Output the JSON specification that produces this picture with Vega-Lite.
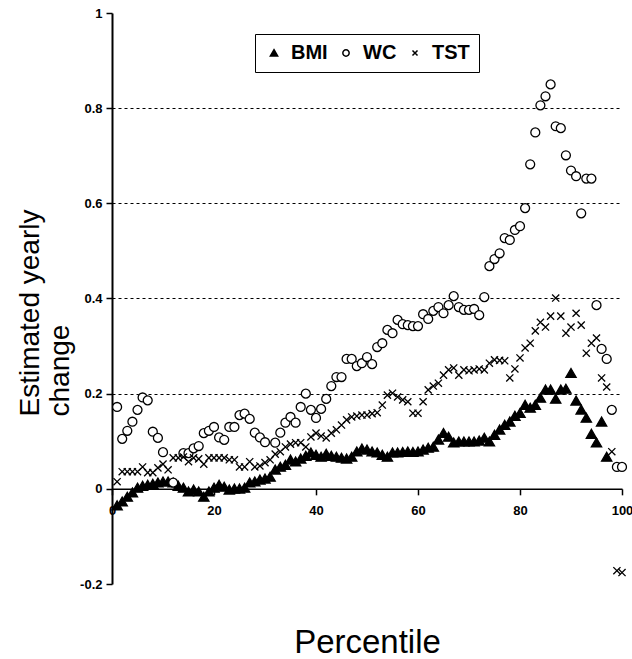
{
 "$schema": "https://vega.github.io/schema/vega-lite/v6.json",
 "width": 510, "height": 571,
 "autosize": {"type": "none"},
 "padding": {"left": 112, "top": 13, "right": 10, "bottom": 75},
 "background": "white",
 "config": {"view": {"stroke": null}, "font": "Liberation Sans"},
 "layer": [
  {
   "data": {"values": [
{"s":"BMI","p":1,"v":-0.035},{"s":"BMI","p":2,"v":-0.027},{"s":"BMI","p":3,"v":-0.017},{"s":"BMI","p":4,"v":-0.008},{"s":"BMI","p":5,"v":0.002},{"s":"BMI","p":6,"v":0.006},{"s":"BMI","p":7,"v":0.008},{"s":"BMI","p":8,"v":0.01},{"s":"BMI","p":9,"v":0.013},{"s":"BMI","p":10,"v":0.015},
{"s":"BMI","p":11,"v":0.015},{"s":"BMI","p":12,"v":0.013},{"s":"BMI","p":13,"v":0.006},{"s":"BMI","p":14,"v":0.002},{"s":"BMI","p":15,"v":-0.006},{"s":"BMI","p":16,"v":-0.002},{"s":"BMI","p":17,"v":-0.006},{"s":"BMI","p":18,"v":-0.017},{"s":"BMI","p":19,"v":-0.006},{"s":"BMI","p":20,"v":0.002},
{"s":"BMI","p":21,"v":0.008},{"s":"BMI","p":22,"v":0.004},{"s":"BMI","p":23,"v":-0.002},{"s":"BMI","p":24,"v":0.0},{"s":"BMI","p":25,"v":0.0},{"s":"BMI","p":26,"v":0.002},{"s":"BMI","p":27,"v":0.013},{"s":"BMI","p":28,"v":0.015},{"s":"BMI","p":29,"v":0.019},{"s":"BMI","p":30,"v":0.021},
{"s":"BMI","p":31,"v":0.025},{"s":"BMI","p":32,"v":0.04},{"s":"BMI","p":33,"v":0.046},{"s":"BMI","p":34,"v":0.05},{"s":"BMI","p":35,"v":0.061},{"s":"BMI","p":36,"v":0.057},{"s":"BMI","p":37,"v":0.063},{"s":"BMI","p":38,"v":0.069},{"s":"BMI","p":39,"v":0.076},{"s":"BMI","p":40,"v":0.071},
{"s":"BMI","p":41,"v":0.067},{"s":"BMI","p":42,"v":0.073},{"s":"BMI","p":43,"v":0.069},{"s":"BMI","p":44,"v":0.067},{"s":"BMI","p":45,"v":0.065},{"s":"BMI","p":46,"v":0.063},{"s":"BMI","p":47,"v":0.067},{"s":"BMI","p":48,"v":0.078},{"s":"BMI","p":49,"v":0.084},{"s":"BMI","p":50,"v":0.082},
{"s":"BMI","p":51,"v":0.078},{"s":"BMI","p":52,"v":0.076},{"s":"BMI","p":53,"v":0.071},{"s":"BMI","p":54,"v":0.067},{"s":"BMI","p":55,"v":0.076},{"s":"BMI","p":56,"v":0.076},{"s":"BMI","p":57,"v":0.077},{"s":"BMI","p":58,"v":0.078},{"s":"BMI","p":59,"v":0.077},{"s":"BMI","p":60,"v":0.078},
{"s":"BMI","p":61,"v":0.082},{"s":"BMI","p":62,"v":0.086},{"s":"BMI","p":63,"v":0.088},{"s":"BMI","p":64,"v":0.103},{"s":"BMI","p":65,"v":0.117},{"s":"BMI","p":66,"v":0.109},{"s":"BMI","p":67,"v":0.097},{"s":"BMI","p":68,"v":0.099},{"s":"BMI","p":69,"v":0.099},{"s":"BMI","p":70,"v":0.099},
{"s":"BMI","p":71,"v":0.099},{"s":"BMI","p":72,"v":0.101},{"s":"BMI","p":73,"v":0.107},{"s":"BMI","p":74,"v":0.099},{"s":"BMI","p":75,"v":0.113},{"s":"BMI","p":76,"v":0.124},{"s":"BMI","p":77,"v":0.134},{"s":"BMI","p":78,"v":0.141},{"s":"BMI","p":79,"v":0.153},{"s":"BMI","p":80,"v":0.159},
{"s":"BMI","p":81,"v":0.176},{"s":"BMI","p":82,"v":0.17},{"s":"BMI","p":83,"v":0.176},{"s":"BMI","p":84,"v":0.191},{"s":"BMI","p":85,"v":0.208},{"s":"BMI","p":86,"v":0.208},{"s":"BMI","p":87,"v":0.189},{"s":"BMI","p":88,"v":0.208},{"s":"BMI","p":89,"v":0.21},{"s":"BMI","p":90,"v":0.243},
{"s":"BMI","p":91,"v":0.185},{"s":"BMI","p":92,"v":0.166},{"s":"BMI","p":93,"v":0.149},{"s":"BMI","p":94,"v":0.115},{"s":"BMI","p":95,"v":0.097},{"s":"BMI","p":96,"v":0.141},{"s":"BMI","p":97,"v":0.067},
{"s":"WC","p":1,"v":0.172},{"s":"WC","p":2,"v":0.105},{"s":"WC","p":3,"v":0.122},{"s":"WC","p":4,"v":0.141},{"s":"WC","p":5,"v":0.166},{"s":"WC","p":6,"v":0.192},{"s":"WC","p":7,"v":0.186},{"s":"WC","p":8,"v":0.12},{"s":"WC","p":9,"v":0.107},{"s":"WC","p":10,"v":0.077},
{"s":"WC","p":12,"v":0.013},{"s":"WC","p":14,"v":0.075},{"s":"WC","p":15,"v":0.075},{"s":"WC","p":16,"v":0.085},{"s":"WC","p":17,"v":0.09},{"s":"WC","p":18,"v":0.117},{"s":"WC","p":19,"v":0.122},{"s":"WC","p":20,"v":0.13},
{"s":"WC","p":21,"v":0.108},{"s":"WC","p":22,"v":0.103},{"s":"WC","p":23,"v":0.13},{"s":"WC","p":24,"v":0.13},{"s":"WC","p":25,"v":0.155},{"s":"WC","p":26,"v":0.158},{"s":"WC","p":27,"v":0.147},{"s":"WC","p":28,"v":0.118},{"s":"WC","p":29,"v":0.108},{"s":"WC","p":30,"v":0.098},
{"s":"WC","p":32,"v":0.097},{"s":"WC","p":33,"v":0.118},{"s":"WC","p":34,"v":0.139},{"s":"WC","p":35,"v":0.151},{"s":"WC","p":36,"v":0.139},{"s":"WC","p":37,"v":0.172},{"s":"WC","p":38,"v":0.2},{"s":"WC","p":39,"v":0.166},{"s":"WC","p":40,"v":0.149},
{"s":"WC","p":41,"v":0.168},{"s":"WC","p":42,"v":0.189},{"s":"WC","p":43,"v":0.216},{"s":"WC","p":44,"v":0.235},{"s":"WC","p":45,"v":0.235},{"s":"WC","p":46,"v":0.273},{"s":"WC","p":47,"v":0.273},{"s":"WC","p":48,"v":0.258},{"s":"WC","p":49,"v":0.264},{"s":"WC","p":50,"v":0.277},
{"s":"WC","p":51,"v":0.262},{"s":"WC","p":52,"v":0.298},{"s":"WC","p":53,"v":0.306},{"s":"WC","p":54,"v":0.334},{"s":"WC","p":55,"v":0.327},{"s":"WC","p":56,"v":0.355},{"s":"WC","p":57,"v":0.346},{"s":"WC","p":58,"v":0.344},{"s":"WC","p":59,"v":0.342},{"s":"WC","p":60,"v":0.342},
{"s":"WC","p":61,"v":0.367},{"s":"WC","p":62,"v":0.357},{"s":"WC","p":63,"v":0.374},{"s":"WC","p":64,"v":0.382},{"s":"WC","p":65,"v":0.369},{"s":"WC","p":66,"v":0.386},{"s":"WC","p":67,"v":0.405},{"s":"WC","p":68,"v":0.382},{"s":"WC","p":69,"v":0.376},{"s":"WC","p":70,"v":0.376},
{"s":"WC","p":71,"v":0.378},{"s":"WC","p":72,"v":0.365},{"s":"WC","p":73,"v":0.403},{"s":"WC","p":74,"v":0.468},{"s":"WC","p":75,"v":0.483},{"s":"WC","p":76,"v":0.495},{"s":"WC","p":77,"v":0.527},{"s":"WC","p":78,"v":0.523},{"s":"WC","p":79,"v":0.544},{"s":"WC","p":80,"v":0.552},
{"s":"WC","p":81,"v":0.59},{"s":"WC","p":82,"v":0.682},{"s":"WC","p":83,"v":0.749},{"s":"WC","p":84,"v":0.806},{"s":"WC","p":85,"v":0.825},{"s":"WC","p":86,"v":0.85},{"s":"WC","p":87,"v":0.762},{"s":"WC","p":88,"v":0.758},{"s":"WC","p":89,"v":0.701},{"s":"WC","p":90,"v":0.669},
{"s":"WC","p":91,"v":0.657},{"s":"WC","p":92,"v":0.579},{"s":"WC","p":93,"v":0.652},{"s":"WC","p":94,"v":0.652},{"s":"WC","p":95,"v":0.386},{"s":"WC","p":96,"v":0.294},{"s":"WC","p":97,"v":0.273},{"s":"WC","p":98,"v":0.166},{"s":"WC","p":99,"v":0.046},{"s":"WC","p":100,"v":0.046},
{"s":"TST","p":1,"v":0.015},{"s":"TST","p":2,"v":0.036},{"s":"TST","p":3,"v":0.036},{"s":"TST","p":4,"v":0.036},{"s":"TST","p":5,"v":0.036},{"s":"TST","p":6,"v":0.046},{"s":"TST","p":7,"v":0.034},{"s":"TST","p":8,"v":0.034},{"s":"TST","p":9,"v":0.044},{"s":"TST","p":10,"v":0.052},
{"s":"TST","p":11,"v":0.04},{"s":"TST","p":12,"v":0.065},{"s":"TST","p":13,"v":0.065},{"s":"TST","p":14,"v":0.067},{"s":"TST","p":15,"v":0.057},{"s":"TST","p":16,"v":0.065},{"s":"TST","p":17,"v":0.063},{"s":"TST","p":18,"v":0.052},{"s":"TST","p":19,"v":0.065},{"s":"TST","p":20,"v":0.065},
{"s":"TST","p":21,"v":0.065},{"s":"TST","p":22,"v":0.065},{"s":"TST","p":23,"v":0.061},{"s":"TST","p":24,"v":0.061},{"s":"TST","p":25,"v":0.046},{"s":"TST","p":26,"v":0.046},{"s":"TST","p":27,"v":0.057},{"s":"TST","p":28,"v":0.046},{"s":"TST","p":29,"v":0.048},{"s":"TST","p":30,"v":0.055},
{"s":"TST","p":31,"v":0.061},{"s":"TST","p":32,"v":0.073},{"s":"TST","p":33,"v":0.078},{"s":"TST","p":34,"v":0.088},{"s":"TST","p":35,"v":0.094},{"s":"TST","p":36,"v":0.097},{"s":"TST","p":37,"v":0.097},{"s":"TST","p":38,"v":0.088},{"s":"TST","p":39,"v":0.109},{"s":"TST","p":40,"v":0.117},
{"s":"TST","p":41,"v":0.111},{"s":"TST","p":42,"v":0.107},{"s":"TST","p":43,"v":0.117},{"s":"TST","p":44,"v":0.124},{"s":"TST","p":45,"v":0.134},{"s":"TST","p":46,"v":0.145},{"s":"TST","p":47,"v":0.151},{"s":"TST","p":48,"v":0.153},{"s":"TST","p":49,"v":0.155},{"s":"TST","p":50,"v":0.155},
{"s":"TST","p":51,"v":0.158},{"s":"TST","p":52,"v":0.16},{"s":"TST","p":53,"v":0.176},{"s":"TST","p":54,"v":0.197},{"s":"TST","p":55,"v":0.201},{"s":"TST","p":56,"v":0.193},{"s":"TST","p":57,"v":0.187},{"s":"TST","p":58,"v":0.183},{"s":"TST","p":59,"v":0.159},{"s":"TST","p":60,"v":0.159},
{"s":"TST","p":61,"v":0.183},{"s":"TST","p":62,"v":0.208},{"s":"TST","p":63,"v":0.216},{"s":"TST","p":64,"v":0.222},{"s":"TST","p":65,"v":0.239},{"s":"TST","p":66,"v":0.25},{"s":"TST","p":67,"v":0.254},{"s":"TST","p":68,"v":0.239},{"s":"TST","p":69,"v":0.25},{"s":"TST","p":70,"v":0.248},
{"s":"TST","p":71,"v":0.25},{"s":"TST","p":72,"v":0.252},{"s":"TST","p":73,"v":0.25},{"s":"TST","p":74,"v":0.264},{"s":"TST","p":75,"v":0.271},{"s":"TST","p":76,"v":0.27},{"s":"TST","p":77,"v":0.269},{"s":"TST","p":78,"v":0.233},{"s":"TST","p":79,"v":0.252},{"s":"TST","p":80,"v":0.275},
{"s":"TST","p":81,"v":0.296},{"s":"TST","p":82,"v":0.306},{"s":"TST","p":83,"v":0.332},{"s":"TST","p":84,"v":0.35},{"s":"TST","p":85,"v":0.34},{"s":"TST","p":86,"v":0.363},{"s":"TST","p":87,"v":0.401},{"s":"TST","p":88,"v":0.363},{"s":"TST","p":89,"v":0.327},{"s":"TST","p":90,"v":0.34},
{"s":"TST","p":91,"v":0.369},{"s":"TST","p":92,"v":0.344},{"s":"TST","p":93,"v":0.285},{"s":"TST","p":94,"v":0.306},{"s":"TST","p":95,"v":0.317},{"s":"TST","p":96,"v":0.233},{"s":"TST","p":97,"v":0.214},{"s":"TST","p":98,"v":0.078},{"s":"TST","p":99,"v":-0.172},{"s":"TST","p":100,"v":-0.176}
   ]},
   "mark": {"type": "point", "stroke": "black", "strokeWidth": 1.3, "size": 80, "opacity": 1},
   "encoding": {
    "x": {"field": "p", "type": "quantitative", "scale": {"domain": [0, 100], "nice": false, "zero": false},
     "axis": {"title": "Percentile", "offset": -95.17, "values": [0, 20, 40, 60, 80, 100], "grid": false,
      "domainColor": "black", "domainWidth": 1.5, "tickColor": "black", "tickSize": 6, "tickWidth": 1.5,
      "labelFont": "Liberation Sans", "labelFontSize": 13, "labelFontWeight": "bold", "labelColor": "black", "labelPadding": 10,
      "labelFlush": false, "labelOverlap": false,
      "titleFont": "Liberation Sans", "titleFontSize": 33, "titleFontWeight": "normal", "titleColor": "black",
      "titleY": 164, "titleBaseline": "alphabetic"}},
    "y": {"field": "v", "type": "quantitative", "scale": {"domain": [-0.2, 1], "nice": false, "zero": false},
     "axis": {"title": ["Estimated yearly", "change"], "values": [-0.2, 0, 0.2, 0.4, 0.6, 0.8, 1],
      "labelExpr": "datum.value < 0 ? '-' + format(-datum.value, '.1~f') : format(datum.value, '.1~f')",
      "grid": true, "gridColor": "black", "gridDash": [3, 3], "gridWidth": 1,
      "gridOpacity": {"condition": {"test": "datum.value > 0.1 && datum.value < 0.9", "value": 1}, "value": 0},
      "domainColor": "black", "domainWidth": 2, "tickColor": "black", "tickSize": 6, "tickWidth": 1.5,
      "labelFont": "Liberation Sans", "labelFontSize": 13, "labelFontWeight": "bold", "labelColor": "black", "labelPadding": 4, "labelFlush": false,
      "titleFont": "Liberation Sans", "titleFontSize": 28, "titleFontWeight": "normal", "titleColor": "black",
      "titleX": -96, "titleY": 403, "titleAlign": "left", "titleBaseline": "top", "titleLineHeight": 30}},
    "shape": {"field": "s", "type": "nominal",
     "scale": {"domain": ["BMI", "WC", "TST"], "range": ["M0,-1.05L1.15,0.95L-1.15,0.95Z", "circle", "M-0.8,-0.8L0.8,0.8M0.8,-0.8L-0.8,0.8"]},
     "legend": {"orient": "none", "legendX": 143, "legendY": 21, "direction": "horizontal", "title": null,
      "strokeColor": "black", "padding": 9, "symbolSize": 40,
      "labelFont": "Liberation Sans", "labelFontSize": 20, "labelFontWeight": "bold", "labelColor": "black", "labelOffset": 7, "columnPadding": 8,
      "encode": {"symbols": {"update": {"stroke": {"value": "black"}, "strokeWidth": {"value": 1.2}}}}}},
    "fill": {"field": "s", "type": "nominal",
     "scale": {"domain": ["BMI", "WC", "TST"], "range": ["black", "white", "transparent"]},
     "legend": {"orient": "none", "legendX": 143, "legendY": 21, "direction": "horizontal", "title": null,
      "strokeColor": "black", "padding": 9, "symbolSize": 40,
      "labelFont": "Liberation Sans", "labelFontSize": 20, "labelFontWeight": "bold", "labelColor": "black", "labelOffset": 7, "columnPadding": 8,
      "encode": {"symbols": {"update": {"stroke": {"value": "black"}, "strokeWidth": {"value": 1.2}}}}}}
   }
  },
  {"mark": {"type": "rule", "color": "black", "strokeWidth": 1.5}, "encoding": {"x": {"datum": 100}}},
  {"mark": {"type": "rule", "color": "black", "strokeWidth": 1.5}, "encoding": {"y": {"datum": -0.2}}}
 ]
}
